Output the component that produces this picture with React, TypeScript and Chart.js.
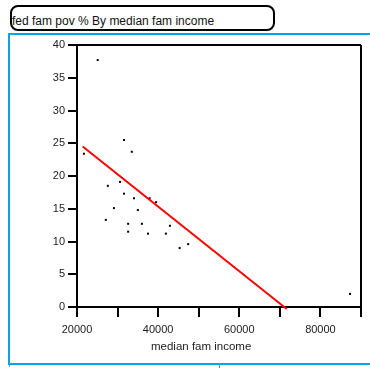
import React, { useEffect, useRef } from 'react';
import { Chart, registerables } from 'chart.js';

Chart.register(...registerables);

// median family income (x) and federal family poverty % (y)
const incomes = [25100, 21700, 31600, 33500, 27600, 30600, 31600, 34050, 37900, 39500, 29100, 35000, 27100, 32600, 36000, 32600, 37500, 42900, 41900, 45300, 47400, 87300];
const povPct = [37.7, 23.4, 25.5, 23.7, 18.5, 19.1, 17.3, 16.6, 16.6, 16.0, 15.1, 14.8, 13.3, 12.7, 12.7, 11.5, 11.2, 12.4, 11.2, 9.0, 9.6, 2.0];
// fitted line
const fitIncome = [21400, 71700];
const fitPov = [24.5, -0.3];
// axes
const xMin = 20000;
const xMax = 90000;
const xStep = 10000;
const xLabelled = [20000, 40000, 60000, 80000];
const yMin = 0;
const yMax = 40;
const yStep = 5;

const titleText = 'fed fam pov % By median fam income';
const xTitle = 'median fam income';

const FONT = '"Liberation Sans", Arial, Helvetica, sans-serif';
const BLUE = '#08a5e6';

const framePlugin = {
  id: 'frame',
  afterDraw(chart: any) {
    const { ctx, chartArea } = chart;
    ctx.save();
    ctx.strokeStyle = '#000';
    ctx.lineWidth = 2;
    ctx.beginPath();
    ctx.moveTo(chartArea.left, chartArea.top);
    ctx.lineTo(chartArea.right, chartArea.top);
    ctx.moveTo(chartArea.right, chartArea.top);
    ctx.lineTo(chartArea.right, chartArea.bottom);
    ctx.stroke();
    ctx.restore();
  },
};

function ScatterChart() {
  const ref = useRef<HTMLCanvasElement | null>(null);
  useEffect(() => {
    if (!ref.current) return;
    const chart = new Chart(ref.current, {
      type: 'scatter',
      data: {
        datasets: [
          {
            label: 'fit',
            data: fitIncome.map((x, i) => ({ x, y: fitPov[i] })),
            showLine: true,
            borderColor: '#ff0000',
            borderWidth: 2,
            pointRadius: 0,
            clip: false as any,
          },
          {
            label: 'fed fam pov %',
            data: incomes.map((x, i) => ({ x, y: povPct[i] })),
            pointStyle: 'rect',
            pointRadius: 1.42,
            pointBorderWidth: 0,
            backgroundColor: '#000',
            borderColor: '#000',
          },
        ],
      },
      options: {
        animation: false,
        responsive: false,
        maintainAspectRatio: false,
        layout: { padding: { left: 0, right: 9, top: 45, bottom: 0 } },
        plugins: {
          legend: { display: false },
          tooltip: { enabled: false },
        },
        scales: {
          x: {
            type: 'linear',
            position: 'bottom',
            min: xMin,
            max: xMax,
            afterFit: (s: any) => { s.height = 61; },
            ticks: {
              stepSize: xStep,
              autoSkip: false,
              maxRotation: 0,
              padding: 6,
              color: '#222',
              font: { family: FONT, size: 11 },
              callback: (v: any) => (xLabelled.includes(Number(v)) ? String(v) : ''),
            },
            grid: {
              drawOnChartArea: false,
              drawTicks: true,
              tickLength: 10,
              color: '#000',
              lineWidth: 2,
            },
            border: { display: true, color: '#000', width: 2 },
          },
          y: {
            type: 'linear',
            min: yMin,
            max: yMax,
            afterFit: (s: any) => { s.width = 77; },
            ticks: {
              stepSize: yStep,
              padding: 3,
              color: '#222',
              font: { family: FONT, size: 11 },
              callback: (v: any) => String(v),
            },
            grid: {
              drawOnChartArea: false,
              drawTicks: true,
              tickLength: 9,
              color: '#000',
              lineWidth: 2,
            },
            border: { display: true, color: '#000', width: 2 },
          },
        },
      },
      plugins: [framePlugin],
    } as any);
    return () => chart.destroy();
  }, []);
  return (
    <canvas
      ref={ref}
      width={370}
      height={368}
      style={{ position: 'absolute', left: 0, top: 0, width: 370, height: 368 }}
    />
  );
}

export default function App() {
  return (
    <div
      style={{
        position: 'fixed',
        left: 0,
        top: 0,
        width: 370,
        height: 368,
        overflow: 'hidden',
        background: '#fff',
        fontFamily: FONT,
      }}
    >
      <div
        style={{
          position: 'absolute',
          left: 10,
          top: 5,
          width: 265,
          height: 26,
          boxSizing: 'border-box',
          border: '2px solid #000',
          borderRadius: 8,
        }}
      />
      <div
        style={{
          position: 'absolute',
          left: 12,
          top: 14,
          fontSize: 12,
          lineHeight: '14px',
          color: '#111',
          whiteSpace: 'nowrap',
        }}
      >
        {titleText}
      </div>
      <div style={{ position: 'absolute', left: 8, top: 33, width: 362, height: 2, background: BLUE }} />
      <div style={{ position: 'absolute', left: 8, top: 33, width: 2, height: 332, background: BLUE }} />
      <div style={{ position: 'absolute', left: 8, top: 363, width: 362, height: 2, background: BLUE }} />
      <div style={{ position: 'absolute', left: 9, top: 365, width: 1, height: 2, background: '#999' }} />
      <div style={{ position: 'absolute', left: 219, top: 365, width: 1, height: 3, background: BLUE }} />
      <ScatterChart />
      <div
        style={{
          position: 'absolute',
          left: 151,
          width: 100,
          top: 339,
          fontSize: 11.5,
          lineHeight: '14px',
          textAlign: 'center',
          color: '#222',
          whiteSpace: 'nowrap',
        }}
      >
        {xTitle}
      </div>
    </div>
  );
}
